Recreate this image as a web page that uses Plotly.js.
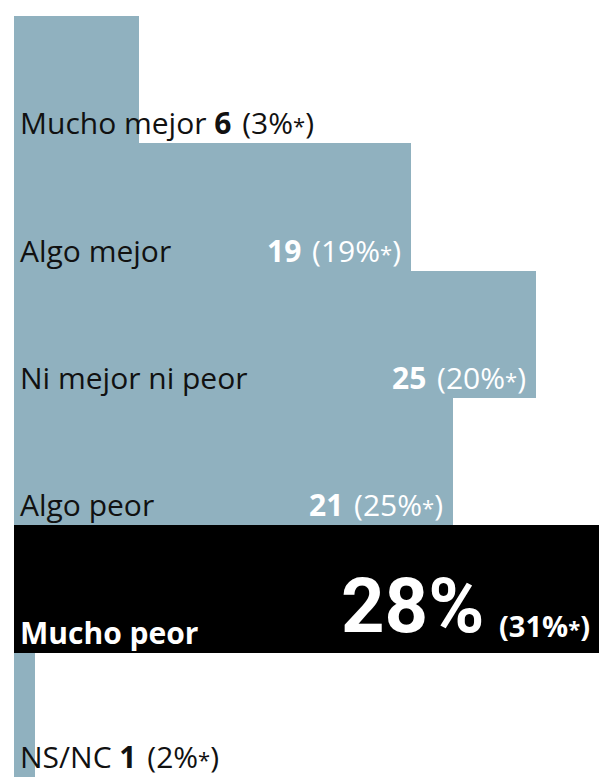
<!DOCTYPE html>
<html>
<head>
<meta charset="utf-8">
<script src="https://cdn.plot.ly/plotly-3.0.1.min.js"></script>
<style>html,body{margin:0;padding:0;background:#fff;}#chart{width:599px;height:777px;}</style>
</head>
<body>
<div id="chart"></div>
<script>
const categories = ['Mucho mejor', 'Algo mejor', 'Ni mejor ni peor', 'Algo peor', 'Mucho peor', 'NS/NC'];
const values = [6, 19, 25, 21, 28, 1];
const valueLabels = ['6', '19', '25', '21', '28%', '1'];
const pctLabels = ['3%', '19%', '20%', '25%', '31%', '2%'];
const highlight = 'Mucho peor';

const BLUE = '#90b1bf';
const DARK = '#111111';
const FONT = 'Open Sans, Noto Sans, sans-serif';
const BIG = 'Roboto, Liberation Sans, sans-serif';
const idx = categories.map((c, i) => i);
const ROW_PX = 127.3;
const ANCH = 0.45;                       // anchor inside the row (kept inside the axis range)
const BASE = -(0.5 - ANCH) * ROW_PX;     // shift back to the row's bottom edge
const lastRow = categories.length - 1;
const GAP = ' \u200A';

const star = '<span style="font-size:22px">*</span>';
const annotations = [];
categories.forEach((c, i) => {
  const v = values[i];
  const isHi = c === highlight;
  const narrow = v < 10;
  const edgeLift = i === lastRow ? 3 : 0;
  const common = {xref: 'x', yref: 'y', yanchor: 'bottom', showarrow: false, y: i + ANCH};
  if (isHi) {
    annotations.push(Object.assign({}, common, {
      x: 0, xanchor: 'left', xshift: 4, yshift: BASE - 2, align: 'left',
      text: '<b>' + c + '</b>', font: {family: FONT, size: 30, color: '#ffffff'}
    }));
    annotations.push(Object.assign({}, common, {
      x: v, xanchor: 'right', xshift: -7, yshift: BASE + 6, align: 'right',
      text: '<b>(' + pctLabels[i] + star + ')</b>',
      font: {family: FONT, size: 29, color: '#ffffff'}
    }));
    annotations.push(Object.assign({}, common, {
      x: v, xanchor: 'right', xshift: -113, yshift: BASE + 0, align: 'right',
      text: '<b>' + valueLabels[i] + '</b>',
      font: {family: BIG, size: 76, color: '#ffffff'}
    }));
  } else if (narrow) {
    annotations.push(Object.assign({}, common, {
      x: 0, xanchor: 'left', xshift: 4, yshift: BASE - 2 + edgeLift, align: 'left',
      text: c + ' <b>' + valueLabels[i] + '</b>' + GAP + '(' + pctLabels[i] + star + ')',
      font: {family: FONT, size: 30, color: DARK}
    }));
  } else {
    annotations.push(Object.assign({}, common, {
      x: 0, xanchor: 'left', xshift: 4, yshift: BASE - 2, align: 'left',
      text: c, font: {family: FONT, size: 30, color: DARK}
    }));
    annotations.push(Object.assign({}, common, {
      x: v, xanchor: 'right', xshift: -8, yshift: BASE - 2, align: 'right',
      text: '<b>' + valueLabels[i] + '</b>' + GAP + '(' + pctLabels[i] + star + ')',
      font: {family: FONT, size: 30, color: '#ffffff'}
    }));
  }
});

const trace = {
  type: 'bar', orientation: 'h',
  x: values, y: idx, width: 1,
  marker: {color: categories.map(c => c === highlight ? '#000000' : BLUE), line: {width: 0}},
  hoverinfo: 'skip'
};

const layout = {
  width: 599, height: 777,
  margin: {l: 14, r: 0, t: 16, b: 0, pad: 0},
  paper_bgcolor: '#ffffff', plot_bgcolor: '#ffffff',
  showlegend: false, bargap: 0,
  xaxis: {range: [0, 28], visible: false, fixedrange: true},
  yaxis: {range: [5.478, -0.5], visible: false, fixedrange: true},
  annotations: annotations,
  hovermode: false
};

Plotly.newPlot('chart', [trace], layout, {displayModeBar: false, staticPlot: true});
</script>
</body>
</html>
